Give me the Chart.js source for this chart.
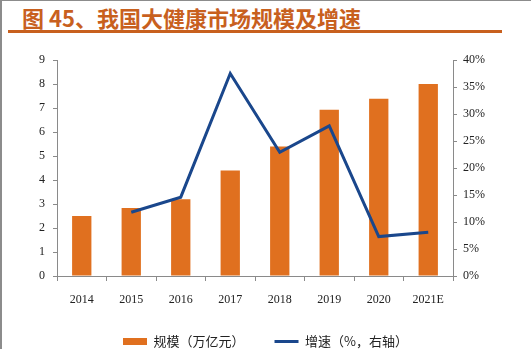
<!DOCTYPE html>
<html>
<head>
<meta charset="utf-8">
<script src="https://cdn.jsdelivr.net/npm/chart.js@4"></script>
<style>
  body { margin: 0; background: #fff; }
  #page { position: relative; width: 531px; height: 349px; overflow: hidden; }
  #frame { position: absolute; left: 0; top: 0; width: 529px; height: 349px; border-top: 1px solid #8c8c8c; border-left: 2px solid #8c8c8c; }
  #title { position: absolute; left: 22px; top: 1px; font: bold 22px "Noto Sans CJK SC", serif; color: #c8601e; white-space: nowrap; }
  #rule { position: absolute; left: 8px; top: 30px; width: 494px; height: 3px; background: #c8601e; }
  #wrap { position: absolute; left: 0; top: 44px; width: 531px; height: 314px; }
</style>
</head>
<body>
<div id="page">
  <div id="frame"></div>
  <div id="title">图 45、我国大健康市场规模及增速</div>
  <div id="rule"></div>
  <div id="wrap"><canvas id="chart"></canvas></div>
</div>
<script>
// data
const years = ['2014', '2015', '2016', '2017', '2018', '2019', '2020', '2021E']
const scale = [2.5, 2.83, 3.2, 4.4, 5.4, 6.93, 7.39, 8.0]   // 万亿元
const growth = [null, 11.8, 14.6, 37.5, 22.9, 27.8, 7.3, 8.1] // %
const leftTicks = [0, 9, 1]
const rightTicks = [0, 40, 5]

const orange = '#e0701f'
const navy = '#1a478c'
const axisGray = '#8a8a8a'
const serif = '"Liberation Serif", "Times New Roman", serif'

const ctx = document.getElementById('chart')

new Chart(ctx, {
  data: {
    labels: years,
    datasets: [
      {
        type: 'line',
        label: '增速（%，右轴）',
        data: growth,
        yAxisID: 'y1',
        borderColor: navy,
        backgroundColor: navy,
        borderWidth: 3,
        pointRadius: 0,
        tension: 0,
        pointStyle: 'line',
        order: 0
      },
      {
        type: 'bar',
        label: '规模（万亿元）',
        data: scale,
        yAxisID: 'y',
        backgroundColor: orange,
        borderWidth: 0,
        categoryPercentage: 1,
        barPercentage: 0.39,
        pointStyle: 'rect',
        order: 1
      }
    ]
  },
  options: {
    responsive: true,
    maintainAspectRatio: false,
    animation: false,
    layout: { padding: { left: 0, right: 0, top: 16, bottom: 0 } },
    scales: {
      x: {
        grid: { display: true, drawOnChartArea: false, offset: true, color: axisGray, tickLength: 5 },
        border: { color: axisGray, width: 1 },
        ticks: { color: '#222', padding: 12, font: { family: serif, size: 12 } },
        afterFit: s => { s.height = 29 }
      },
      y: {
        position: 'left',
        min: leftTicks[0], max: leftTicks[1],
        ticks: { stepSize: leftTicks[2], color: '#222', padding: 8, font: { family: serif, size: 12 } },
        grid: { drawOnChartArea: false, color: axisGray, tickLength: 4 },
        border: { color: axisGray, width: 1 },
        afterFit: s => { s.width = 57 }
      },
      y1: {
        position: 'right',
        min: rightTicks[0], max: rightTicks[1],
        ticks: { stepSize: rightTicks[2], color: '#222', padding: 6, font: { family: serif, size: 12 }, callback: v => v + '%' },
        grid: { drawOnChartArea: false, color: axisGray, tickLength: 4 },
        border: { color: axisGray, width: 1 },
        afterFit: s => { s.width = 78 }
      }
    },
    plugins: {
      legend: {
        position: 'bottom',
        reverse: true,
        labels: {
          usePointStyle: true,
          pointStyleWidth: 24,
          boxHeight: 7,
          padding: 30,
          color: '#222',
          font: { family: '"Noto Sans CJK SC", serif', size: 13 }
        }
      },
      tooltip: { enabled: false }
    }
  }
})
</script>
</body>
</html>
